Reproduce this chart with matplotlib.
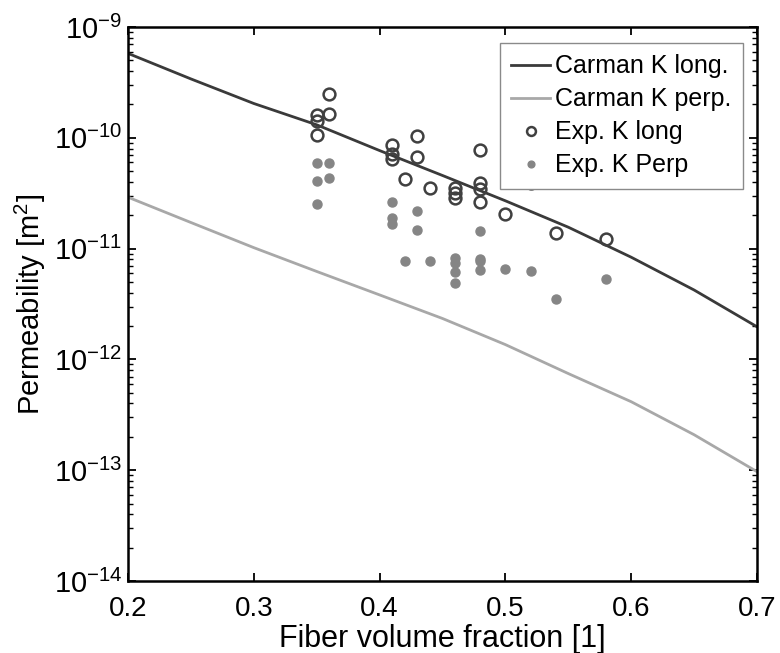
import numpy as np
import matplotlib
matplotlib.use("Agg")
import matplotlib.pyplot as plt
import matplotlib as mpl
import matplotlib.ticker as ticker

mpl.rcParams['font.family'] = 'Liberation Sans'
mpl.rcParams['mathtext.fontset'] = 'custom'
mpl.rcParams['mathtext.rm'] = 'Liberation Sans'
mpl.rcParams['mathtext.it'] = 'Liberation Sans:italic'
mpl.rcParams['mathtext.default'] = 'regular'
mpl.rcParams['xtick.direction'] = 'in'
mpl.rcParams['ytick.direction'] = 'in'
mpl.rcParams['xtick.top'] = True
mpl.rcParams['ytick.right'] = True

# Carman model curves
vf_model = [0.20, 0.25, 0.30, 0.35, 0.40, 0.45, 0.50, 0.55, 0.60, 0.65, 0.70]
k_long_model = [5.78e-10, 3.40e-10, 2.04e-10, 1.31e-10, 7.67e-11, 4.57e-11,
                2.70e-11, 1.56e-11, 8.36e-12, 4.23e-12, 1.97e-12]
k_perp_model = [2.91e-11, 1.72e-11, 1.02e-11, 6.22e-12, 3.82e-12, 2.34e-12,
                1.36e-12, 7.45e-13, 4.15e-13, 2.09e-13, 9.70e-14]

# experiments, longitudinal
vf_long = [0.35, 0.35, 0.35, 0.36, 0.36, 0.41, 0.41, 0.41, 0.42, 0.43, 0.43,
           0.44, 0.46, 0.46, 0.46, 0.48, 0.48, 0.48, 0.48, 0.50, 0.52, 0.54, 0.58]
k_long = [1.61e-10, 1.43e-10, 1.05e-10, 2.46e-10, 1.64e-10, 8.59e-11, 7.17e-11,
          6.42e-11, 4.24e-11, 1.04e-10, 6.70e-11, 3.52e-11, 3.52e-11, 3.16e-11,
          2.85e-11, 7.83e-11, 3.90e-11, 3.44e-11, 2.62e-11, 2.05e-11, 3.88e-11,
          1.38e-11, 1.23e-11]

# experiments, perpendicular
vf_perp = [0.35, 0.35, 0.35, 0.36, 0.36, 0.41, 0.41, 0.41, 0.42, 0.43, 0.43,
           0.44, 0.46, 0.46, 0.46, 0.46, 0.48, 0.48, 0.48, 0.48, 0.50, 0.52,
           0.54, 0.58]
k_perp = [5.90e-11, 4.09e-11, 2.52e-11, 5.98e-11, 4.35e-11, 2.62e-11, 1.87e-11,
          1.66e-11, 7.80e-12, 2.20e-11, 1.48e-11, 7.80e-12, 8.30e-12, 7.48e-12,
          6.17e-12, 4.87e-12, 1.44e-11, 8.07e-12, 7.66e-12, 6.43e-12, 6.52e-12,
          6.32e-12, 3.48e-12, 5.30e-12]

xticks = [0.2, 0.3, 0.4, 0.5, 0.6, 0.7]
yticks = [1e-14, 1e-13, 1e-12, 1e-11, 1e-10, 1e-9]

fig = plt.figure(figsize=(7.8, 6.53), dpi=100)
ax = fig.add_axes([128/780, 1 - 581/653, 629/780, 554/653])

ax.semilogy(vf_model, k_long_model, color='#3a3a3a', lw=2.0, label='Carman K long.')
ax.semilogy(vf_model, k_perp_model, color='#a8a8a8', lw=2.0, label='Carman K perp.')
ax.plot(vf_long, k_long, 'o', mfc='none', mec='#404040', mew=1.8, ms=8.5,
        label='Exp. K long')
ax.plot(vf_perp, k_perp, 'o', color='#858585', mec='#858585', ms=6.5,
        label='Exp. K Perp')

ax.set_xlim(0.2, 0.7)
ax.set_ylim(1e-14, 1e-9)
ax.set_xticks(xticks)
ax.set_xticklabels(['%.1f' % v for v in xticks])
ax.set_yticks(yticks)
ax.set_yticklabels(['$10^{%d}$' % round(np.log10(v)) for v in yticks])
minor = [m * 10.0**e for e in range(-14, -9) for m in range(2, 10)]
ax.set_yticks(minor, minor=True)
ax.set_yticklabels([], minor=True)
ax.xaxis.set_minor_locator(ticker.NullLocator())
ax.tick_params(axis='x', which='major', labelsize=20, length=6, width=1.3, pad=11)
ax.tick_params(axis='y', which='major', labelsize=21, length=6, width=1.3, pad=4)
ax.tick_params(axis='y', which='minor', length=3.5, width=1.0)
for s in ax.spines.values():
    s.set_linewidth(1.8)

ax.set_xlabel('Fiber volume fraction [1]', fontsize=22, labelpad=1)
ax.set_ylabel('Permeability [m$^2$]', fontsize=21, labelpad=4)

leg = ax.legend(loc='upper right', bbox_to_anchor=(0.977, 0.971), borderaxespad=0,
                fontsize=18, frameon=True, fancybox=False, framealpha=1,
                handlelength=1.55, handletextpad=0.2, labelspacing=0.36,
                borderpad=0.45, numpoints=1, markerscale=0.75)
leg.get_frame().set_edgecolor('#8a8a8a')
leg.get_frame().set_linewidth(1.0)

fig.savefig('out.png', dpi=100)
